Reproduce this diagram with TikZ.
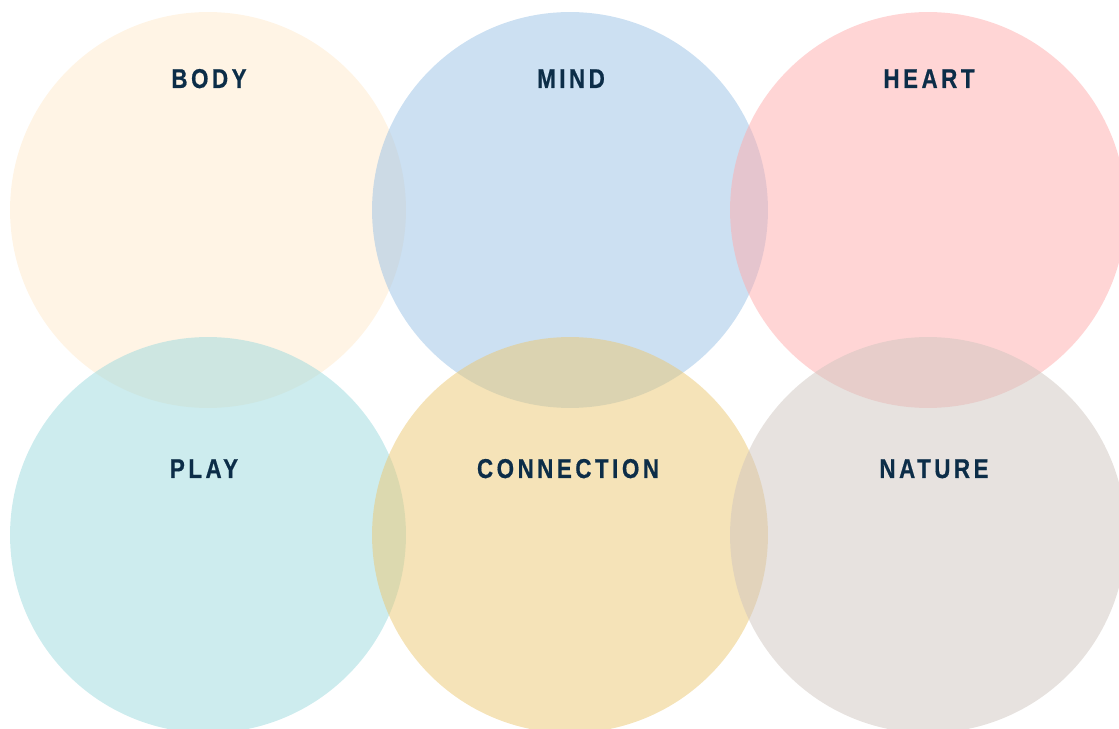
\documentclass[tikz,border=0pt]{standalone}
\usepackage{fontspec}
\setmainfont{Liberation Sans}
\newfontfamily\headfont[LetterSpace=13,FakeStretch=0.82,FakeBold=0.6]{Liberation Sans}
\usepackage{xcolor}
\usepackage{tikz}

% Circle fills (drawn half transparent)
\definecolor{bodyfill}{RGB}{255,233,203}
\definecolor{mindfill}{RGB}{153,193,229}
\definecolor{heartfill}{RGB}{255,171,171}
\definecolor{playfill}{RGB}{155,217,221}
\definecolor{connfill}{RGB}{235,199,113}
\definecolor{naturefill}{RGB}{207,197,191}
\definecolor{headink}{RGB}{12,45,72}

\tikzset{
    area/.style={circle, minimum size=7.92cm, inner sep=0pt, fill opacity=0.5},
    head/.style={anchor=base, text=headink, font=\headfont\bfseries\fontsize{15.5}{18}\selectfont}
}

\begin{document}
\begin{tikzpicture}[x=0.02cm, y=-0.02cm]
        \useasboundingbox (0,0) rectangle (1119,729);
        \clip (0,0) rectangle (1119,729);

        % Top row
        \node[area, fill=bodyfill]   (body)   at (208,210) {};
        \node[area, fill=mindfill]   (mind)   at (570,210) {};
        \node[area, fill=heartfill]  (heart)  at (928,210) {};

        % Bottom row
        \node[area, fill=playfill]   (play)   at (208,535) {};
        \node[area, fill=connfill]   (conn)   at (570,535) {};
        \node[area, fill=naturefill] (nature) at (928,535) {};

        % Headings
        \node[head] (bodytext)   at (209,88)  {BODY};
        \node[head] (mindtext)   at (571,88)  {MIND};
        \node[head] (hearttext)  at (929,88)  {HEART};
        \node[head] (playtext)   at (204,478) {PLAY};
        \node[head] (conntext)   at (568,478) {CONNECTION};
        \node[head] (naturetext) at (934,478) {NATURE};

    \end{tikzpicture}
\end{document}
